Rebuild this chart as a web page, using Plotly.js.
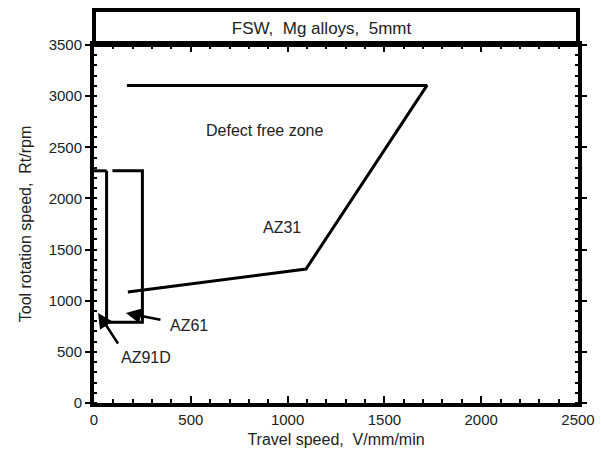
<!DOCTYPE html>
<html>
<head>
<meta charset="utf-8">
<script src="https://cdn.plot.ly/plotly-3.0.1.min.js"></script>
<style>html,body{margin:0;padding:0;background:#fff;}#chart{width:601px;height:461px;}</style>
</head>
<body>
<div id="chart"></div>
<script>
// AZ31 defect-free zone boundary (travel speed mm/min, rotation rpm)
var az31X = [175, 1095, 1720, 170];
var az31Y = [1085, 1310, 3105, 3105];
// AZ91D boundary top segment
var az91dX = [0, 65];
var az91dY = [2270, 2270];
// AZ61 boundary
var az61X = [95, 250, 250, 65, 65];
var az61Y = [2270, 2270, 790, 790, 2270];

var xTicks = [0, 500, 1000, 1500, 2000, 2500];
var yTicks = [0, 500, 1000, 1500, 2000, 2500, 3000, 3500];

var lineStyle = {color: '#000', width: 3};
var traces = [
  {x: az31X, y: az31Y, mode: 'lines', line: lineStyle, hoverinfo: 'skip'},
  {x: az91dX, y: az91dY, mode: 'lines', line: lineStyle, hoverinfo: 'skip'},
  {x: az61X, y: az61Y, mode: 'lines', line: lineStyle, hoverinfo: 'skip'}
];

var fam = 'Liberation Sans, Arial, sans-serif';
var font = {family: fam, size: 16, color: '#222'};

var layout = {
  width: 601, height: 461,
  margin: {l: 94, r: 23, t: 45, b: 58},
  paper_bgcolor: '#fff', plot_bgcolor: '#fff',
  showlegend: false,
  font: font,
  title: {text: 'FSW,  Mg alloys,  5mmt', x: 0.535, xanchor: 'center', y: 0.94, yanchor: 'middle',
          font: {family: fam, size: 17, color: '#222'}},
  xaxis: {
    range: [0, 2500], tickvals: xTicks, ticktext: xTicks.map(String),
    showgrid: false, zeroline: false,
    showline: true, linecolor: '#000', linewidth: 4, mirror: 'ticks',
    ticks: 'inside', ticklen: 7, tickwidth: 2, tickcolor: '#000',
    minor: {dtick: 100, ticks: 'inside', ticklen: 4, tickwidth: 2, tickcolor: '#000'},
    tickfont: {family: fam, size: 15, color: '#222'},
    title: {text: 'Travel speed,  V/mm/min', font: {family: fam, size: 16, color: '#222'}, standoff: 8}
  },
  yaxis: {
    range: [0, 3500], tickvals: yTicks, ticktext: yTicks.map(String),
    showgrid: false, zeroline: false,
    showline: true, linecolor: '#000', linewidth: 4, mirror: 'ticks',
    ticks: 'outside', ticklen: 5, tickwidth: 2, tickcolor: '#000',
    minor: {dtick: 100, ticks: 'inside', ticklen: 3, tickwidth: 2, tickcolor: '#000'},
    tickfont: {family: fam, size: 15, color: '#222'},
    title: {text: 'Tool rotation speed,  Rt/rpm', font: {family: fam, size: 16, color: '#222'}, standoff: 14}
  },
  shapes: [
    {type: 'rect', xref: 'paper', yref: 'paper', x0: 0, x1: 1, y0: 1, y1: 1.098,
     line: {color: '#000', width: 4}, fillcolor: 'rgba(0,0,0,0)'}
  ],
  annotations: [
    {x: 883, y: 2669, xref: 'x', yref: 'y', text: 'Defect free zone', showarrow: false, font: font},
    {x: 971, y: 1720, xref: 'x', yref: 'y', text: 'AZ31', showarrow: false, font: font},
    {x: 490, y: 762, xref: 'x', yref: 'y', text: 'AZ61', showarrow: false, font: font},
    {x: 269, y: 440, xref: 'x', yref: 'y', text: 'AZ91D', showarrow: false, font: font},
    {x: 165, y: 880, ax: 351, ay: 811, xref: 'x', yref: 'y', axref: 'x', ayref: 'y', text: '',
     showarrow: true, arrowhead: 2, arrowsize: 1.2, arrowwidth: 2.5, arrowcolor: '#000'},
    {x: 21, y: 880, ax: 129, ay: 567, xref: 'x', yref: 'y', axref: 'x', ayref: 'y', text: '',
     showarrow: true, arrowhead: 2, arrowsize: 1.2, arrowwidth: 2.5, arrowcolor: '#000'}
  ]
};

Plotly.newPlot('chart', traces, layout, {staticPlot: true, displayModeBar: false});
</script>
</body>
</html>
